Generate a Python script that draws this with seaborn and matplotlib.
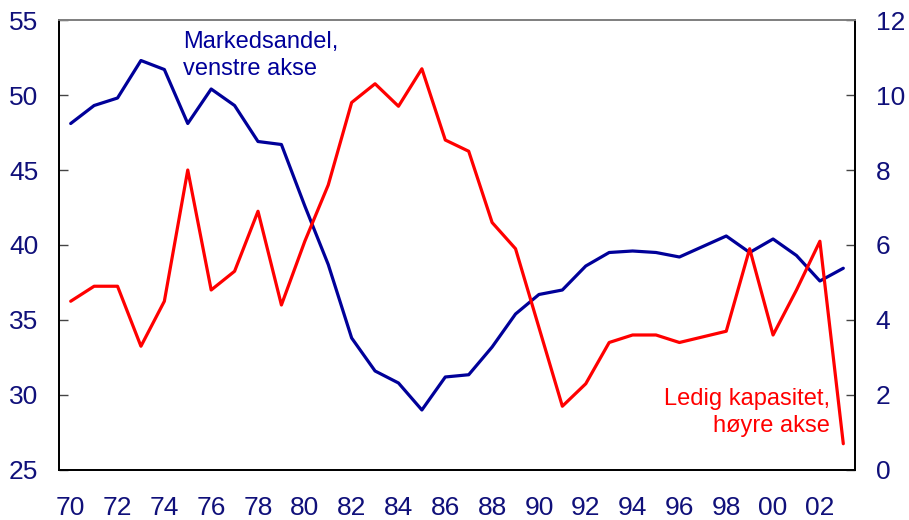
import numpy as np
import pandas as pd
import seaborn as sns
import matplotlib.pyplot as plt
from matplotlib.ticker import FixedLocator, NullFormatter, FixedFormatter

# Data
years = list(range(1970, 2004))
market_share = [48.1, 49.3, 49.8, 52.3, 51.7, 48.1, 50.4, 49.3, 46.9, 46.7,
                42.6, 38.7, 33.8, 31.6, 30.8, 29.0, 31.2, 31.35, 33.2, 35.4,
                36.7, 37.0, 38.6, 39.5, 39.6, 39.5, 39.2, 39.9, 40.6, 39.5,
                40.4, 39.3, 37.6, 38.45]
spare_capacity = [4.5, 4.9, 4.9, 3.3, 4.5, 8.0, 4.8, 5.3, 6.9, 4.4,
                  6.1, 7.6, 9.8, 10.3, 9.7, 10.7, 8.8, 8.5, 6.6, 5.9,
                  3.8, 1.7, 2.3, 3.4, 3.6, 3.6, 3.4, 3.55, 3.7, 5.9,
                  3.6, 4.8, 6.1, 0.7]
year_labels = [f"{y % 100:02d}" for y in years[::2]]

BLUE = "#000099"
NAVY = "#10107a"
RED = "#ff0000"

sns.set_style("white")
plt.rcParams["font.family"] = ["Liberation Sans", "DejaVu Sans"]

df = pd.DataFrame({"idx": np.arange(len(years)), "market": market_share,
                   "capacity": spare_capacity})

fig = plt.figure(figsize=(9.09, 5.20), dpi=100)
ax = fig.add_axes([0.0649, 0.0962, 0.8757, 0.8653])
ax2 = ax.twinx()

sns.lineplot(data=df, x="idx", y="market", ax=ax, color=BLUE, linewidth=2.3)
sns.lineplot(data=df, x="idx", y="capacity", ax=ax2, color=RED, linewidth=2.3)

ax.set_xlim(-0.5, len(years) - 0.5)
ax.set_ylim(25, 55)
ax2.set_ylim(0, 12)
ax.set_yticks(range(25, 56, 5))
ax2.set_yticks(range(0, 13, 2))

# x ticks at category boundaries, labels at category centres
ax.xaxis.set_major_locator(FixedLocator(np.arange(1.5, len(years) - 1, 2)))
ax.xaxis.set_major_formatter(NullFormatter())
ax.xaxis.set_minor_locator(FixedLocator(np.arange(0, len(years), 2)))
ax.xaxis.set_minor_formatter(FixedFormatter(year_labels))
ax.tick_params(axis="x", which="major", direction="in", length=6, width=1, color="black")
ax.tick_params(axis="x", which="minor", length=0, pad=19, labelsize=19, labelcolor=NAVY)
ax.tick_params(axis="y", direction="in", length=6.5, width=1, color="#444444",
               pad=15, labelsize=19, labelcolor=NAVY, left=True)
ax2.tick_params(axis="y", direction="in", length=6.5, width=1, color="#444444",
                pad=15, labelsize=19, labelcolor=NAVY, right=True)

for a in (ax, ax2):
    a.set_xlabel("")
    a.set_ylabel("")
    for side in ("left", "right", "bottom"):
        a.spines[side].set_color("black")
        a.spines[side].set_linewidth(1.3)
    a.spines["top"].set_color("#808080")
    a.spines["top"].set_linewidth(1.3)

ax.text(0.156, 0.976, "Markedsandel,\nvenstre akse", transform=ax.transAxes,
        ha="left", va="top", fontsize=17, color=BLUE, linespacing=1.32)
ax2.text(0.968, 0.183, "Ledig kapasitet,\nhøyre akse", transform=ax.transAxes,
         ha="right", va="top", fontsize=17, color=RED, linespacing=1.32,
         multialignment="right")

fig.savefig("out.png", dpi=100)
